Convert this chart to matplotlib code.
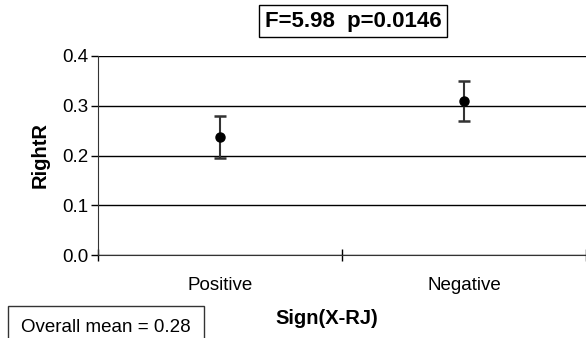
import matplotlib
matplotlib.use('Agg')
import matplotlib.pyplot as plt

plt.rcParams['font.family'] = ['Liberation Sans', 'DejaVu Sans']

categories = ['Positive', 'Negative']
means = [0.237, 0.309]
errors = [0.043, 0.040]
y_ticks = [0.0, 0.1, 0.2, 0.3, 0.4]

fig = plt.figure(figsize=(5.86, 3.38), dpi=100)
ax = fig.add_axes([98 / 586, 1 - 255 / 338, 488 / 586, 199 / 338])

xpos = [i + 0.5 for i in range(len(categories))]
ax.errorbar(xpos, means, yerr=errors, fmt='o', color='black', ecolor='#333333',
            elinewidth=1.5, capsize=4.5, capthick=1.8, markersize=6.5, zorder=3)

ax.set_xlim(0, len(categories))
ax.set_ylim(0, 0.4)
ax.set_yticks(y_ticks)
ax.set_yticklabels(['%.1f' % v for v in y_ticks], fontsize=13.5)
ax.set_xticks(range(len(categories) + 1))
ax.set_xticklabels([])
ax.set_xticks(xpos, minor=True)
ax.set_xticklabels(categories, minor=True, fontsize=13.5)
ax.tick_params(axis='x', which='minor', length=0, pad=16)
ax.tick_params(axis='x', which='major', direction='inout', length=8, width=1)
ax.tick_params(axis='y', direction='out', length=5, width=1, pad=2)

ax.grid(True, axis='y', color='black', linewidth=1)
for s in ['top', 'right']:
    ax.spines[s].set_visible(False)
ax.spines['left'].set_color('#333333')
ax.spines['bottom'].set_color('#333333')

ax.set_ylabel('RightR', fontsize=14.5, fontweight='bold', labelpad=9)
fig.text(327 / 586, 1 - 318 / 338, 'Sign(X-RJ)', fontsize=14.5, fontweight='bold',
         ha='center', va='center')

fig.text(353 / 586, 1 - 21 / 338, 'F=5.98  p=0.0146', fontsize=16, fontweight='bold',
         ha='center', va='center',
         bbox=dict(boxstyle='square,pad=0.25', facecolor='white', edgecolor='black', linewidth=1))

fig.text(21 / 586, 1 - 328 / 338, 'Overall mean = 0.28', fontsize=13.5,
         ha='left', va='center',
         bbox=dict(boxstyle='square,pad=0.7', facecolor='white', edgecolor='#333333', linewidth=1))

fig.savefig('out.png', dpi=100)
